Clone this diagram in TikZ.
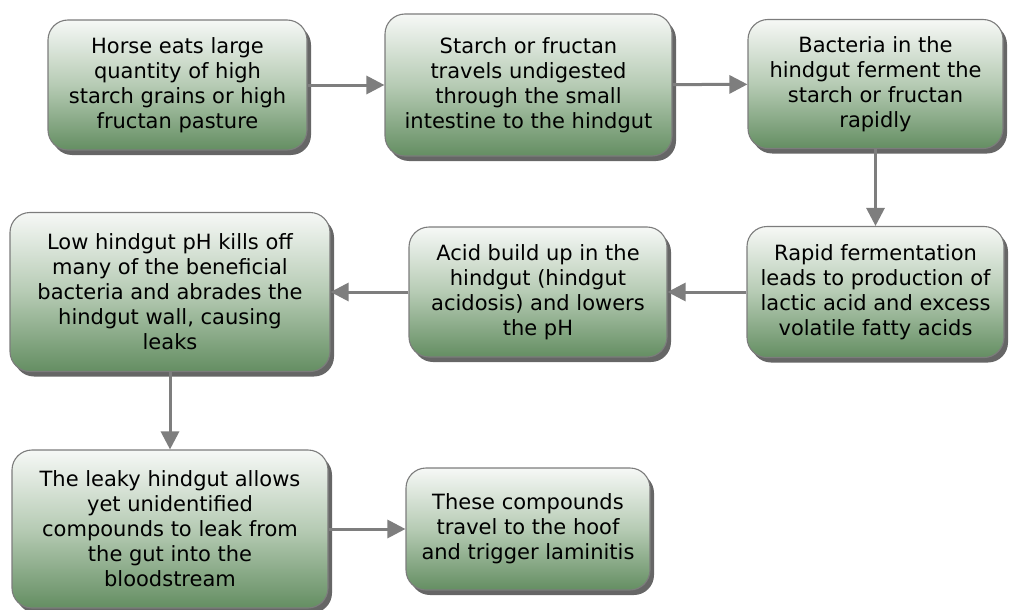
\documentclass[tikz,border=0pt]{standalone}
\usepackage{fontspec}
\setmainfont{DejaVu Sans}
\usepackage{tikz}
\usetikzlibrary{positioning,arrows.meta,shadows}
\definecolor{boxtop}{HTML}{F6F8F6}
\definecolor{boxmid}{HTML}{B6CBB4}
\definecolor{boxbot}{HTML}{648E62}
\definecolor{boxline}{HTML}{7C7C7C}
\definecolor{flowcol}{HTML}{7E7E7E}

\begin{document}
\begin{tikzpicture}[x=1pt,y=-1pt,
    every node/.style={font=\fontsize{21}{25}\selectfont},
    stepbox/.style={draw=boxline, line width=1.1pt, rounded corners=20pt,
      top color=boxtop, bottom color=boxbot, middle color=boxmid,
      align=center, inner sep=0pt,
      drop shadow={shadow xshift=4pt, shadow yshift=-5pt, opacity=0.6, fill=black}},
    flow/.style={draw=flowcol, line width=3pt, -{Triangle[length=18pt,width=18pt]}}]
      \useasboundingbox (0,0) rectangle (1009,610);
      % first row
      \node[stepbox, minimum width=259pt, minimum height=130pt] (H) at (177.5,85) {Horse eats large\\quantity of high\\starch grains or high\\fructan pasture};
      \node[stepbox, minimum width=287pt, minimum height=142pt] (S) at (528.5,85) {Starch or fructan\\travels undigested\\through the small\\intestine to the hindgut};
      \node[stepbox, minimum width=255pt, minimum height=129pt] (B) at (875.5,84) {Bacteria in the\\hindgut ferment the\\starch or fructan\\rapidly};
      % second row
      \node[stepbox, minimum width=257pt, minimum height=131pt] (R) at (875.5,292) {Rapid fermentation\\leads to production of\\lactic acid and excess\\volatile fatty acids};
      \node[stepbox, minimum width=258pt, minimum height=130pt] (A) at (538,292) {Acid build up in the\\hindgut (hindgut\\acidosis) and lowers\\the pH};
      \node[stepbox, minimum width=320pt, minimum height=159pt] (L) at (170,292) {Low hindgut pH kills off\\many of the beneficial\\bacteria and abrades the\\hindgut wall, causing\\leaks};
      % third row
      \node[stepbox, minimum width=316pt, minimum height=158pt] (K) at (170,529) {The leaky hindgut allows\\yet unidentified\\compounds to leak from\\the gut into the\\bloodstream};
      \node[stepbox, minimum width=244pt, minimum height=122pt] (T) at (528,529) {These compounds\\travel to the hoof\\and trigger laminitis};
      \draw[flow] (H) -- (S);
      \draw[flow] (S) -- (B);
      \draw[flow] (B) -- (R);
      \draw[flow] (R) -- (A);
      \draw[flow] (A) -- (L);
      \draw[flow] (L) -- (K);
      \draw[flow] (K) -- (T);
    \end{tikzpicture}
\end{document}
